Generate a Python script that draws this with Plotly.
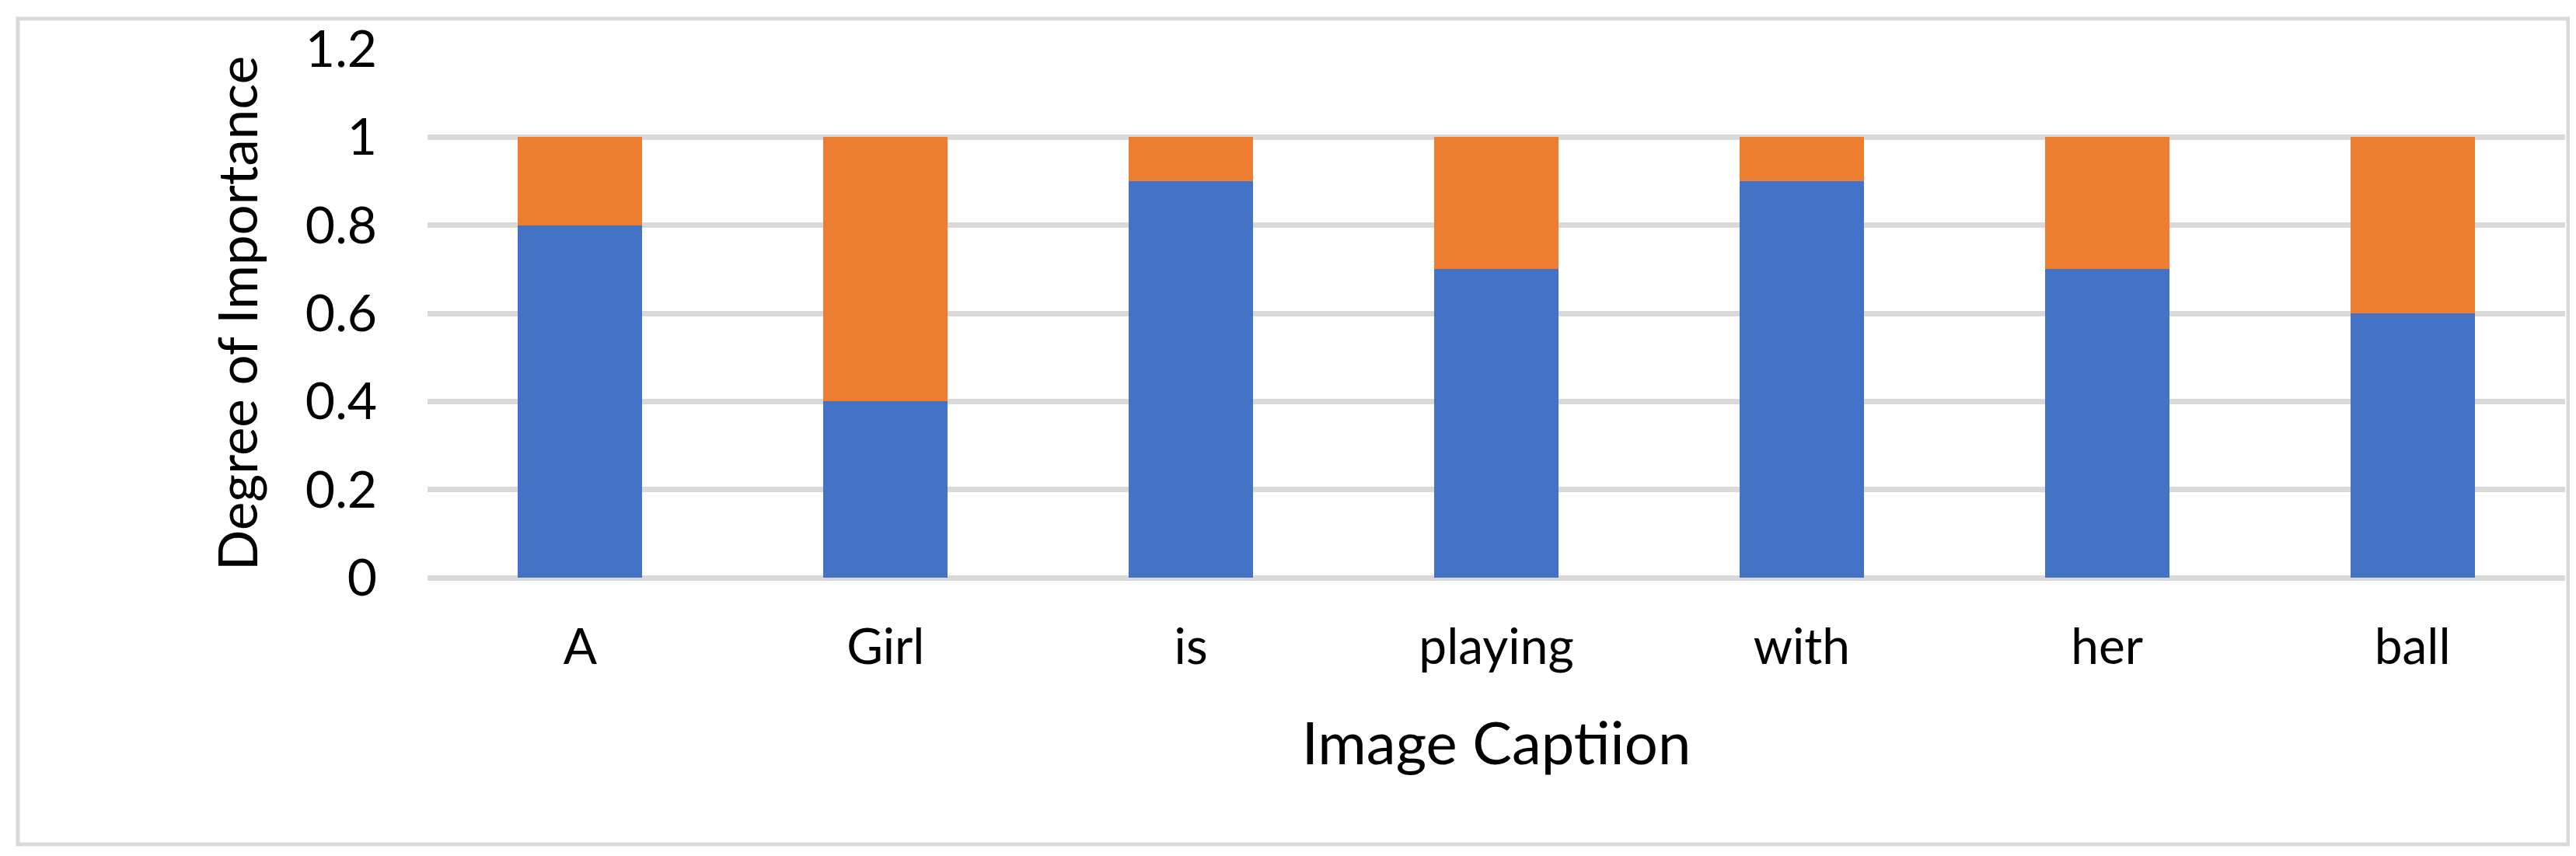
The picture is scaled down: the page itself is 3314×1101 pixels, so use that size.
import plotly.graph_objects as go

# ── Data ────────────────────────────────────────────────────────────────────
words = ['A', 'Girl', 'is', 'playing', 'with', 'her', 'ball']
blue_share = [0.8, 0.4, 0.9, 0.7, 0.9, 0.7, 0.6]
orange_share = [0.2, 0.6, 0.1, 0.3, 0.1, 0.3, 0.4]
y_ticks = [0, 0.2, 0.4, 0.6, 0.8, 1, 1.2]

# ── Layout constants ────────────────────────────────────────────────────────
W, H = 3314, 1101
M_L, M_R, M_T, M_B = 542, 22, 55, 366
PLOT_W = W - M_L - M_R
PLOT_H = H - M_T - M_B

FONT = 'Lato, Calibri, sans-serif'
GRID = '#D9D9D9'
BLUE = '#4472C4'
ORANGE = '#ED7D31'


def px_to_paper(x, y):
    return (x - M_L) / PLOT_W, (H - M_B - y) / PLOT_H


fig = go.Figure()
fig.add_trace(go.Bar(x=words, y=blue_share, marker=dict(color=BLUE, line=dict(width=0)), name='Series1'))
fig.add_trace(go.Bar(x=words, y=orange_share, marker=dict(color=ORANGE, line=dict(width=0)), name='Series2'))

# outer chart border
bx0, by0 = px_to_paper(15, 1078)
bx1, by1 = px_to_paper(3296, 16)
fig.add_shape(type='rect', xref='paper', yref='paper', x0=bx0, y0=by0, x1=bx1, y1=by1,
              line=dict(color=GRID, width=5), layer='below')

fig.update_layout(
    width=W, height=H,
    barmode='stack',
    bargap=0.593,
    showlegend=False,
    paper_bgcolor='white',
    plot_bgcolor='white',
    margin=dict(l=M_L, r=M_R, t=M_T, b=M_B, autoexpand=False),
    font=dict(family=FONT, color='#000000'),
)
fig.update_xaxes(
    showgrid=False, zeroline=False, showline=False, ticks='',
    tickfont=dict(size=64, family=FONT, color='#000000'),
    ticklabelstandoff=46,
    title=dict(text='Image Captiion', font=dict(size=76, family=FONT, color='#000000'), standoff=62),
)
fig.update_yaxes(
    range=[0, 1.2], tickvals=y_ticks,
    showgrid=True, gridcolor=GRID, gridwidth=7,
    zeroline=True, zerolinecolor=GRID, zerolinewidth=7,
    showline=False, ticks='',
    tickfont=dict(size=66, family=FONT, color='#000000'),
    ticklabelstandoff=64,
    title=dict(text='Degree of Importance', font=dict(size=69, family=FONT, color='#000000'), standoff=38),
)

fig.write_html('out.html')
